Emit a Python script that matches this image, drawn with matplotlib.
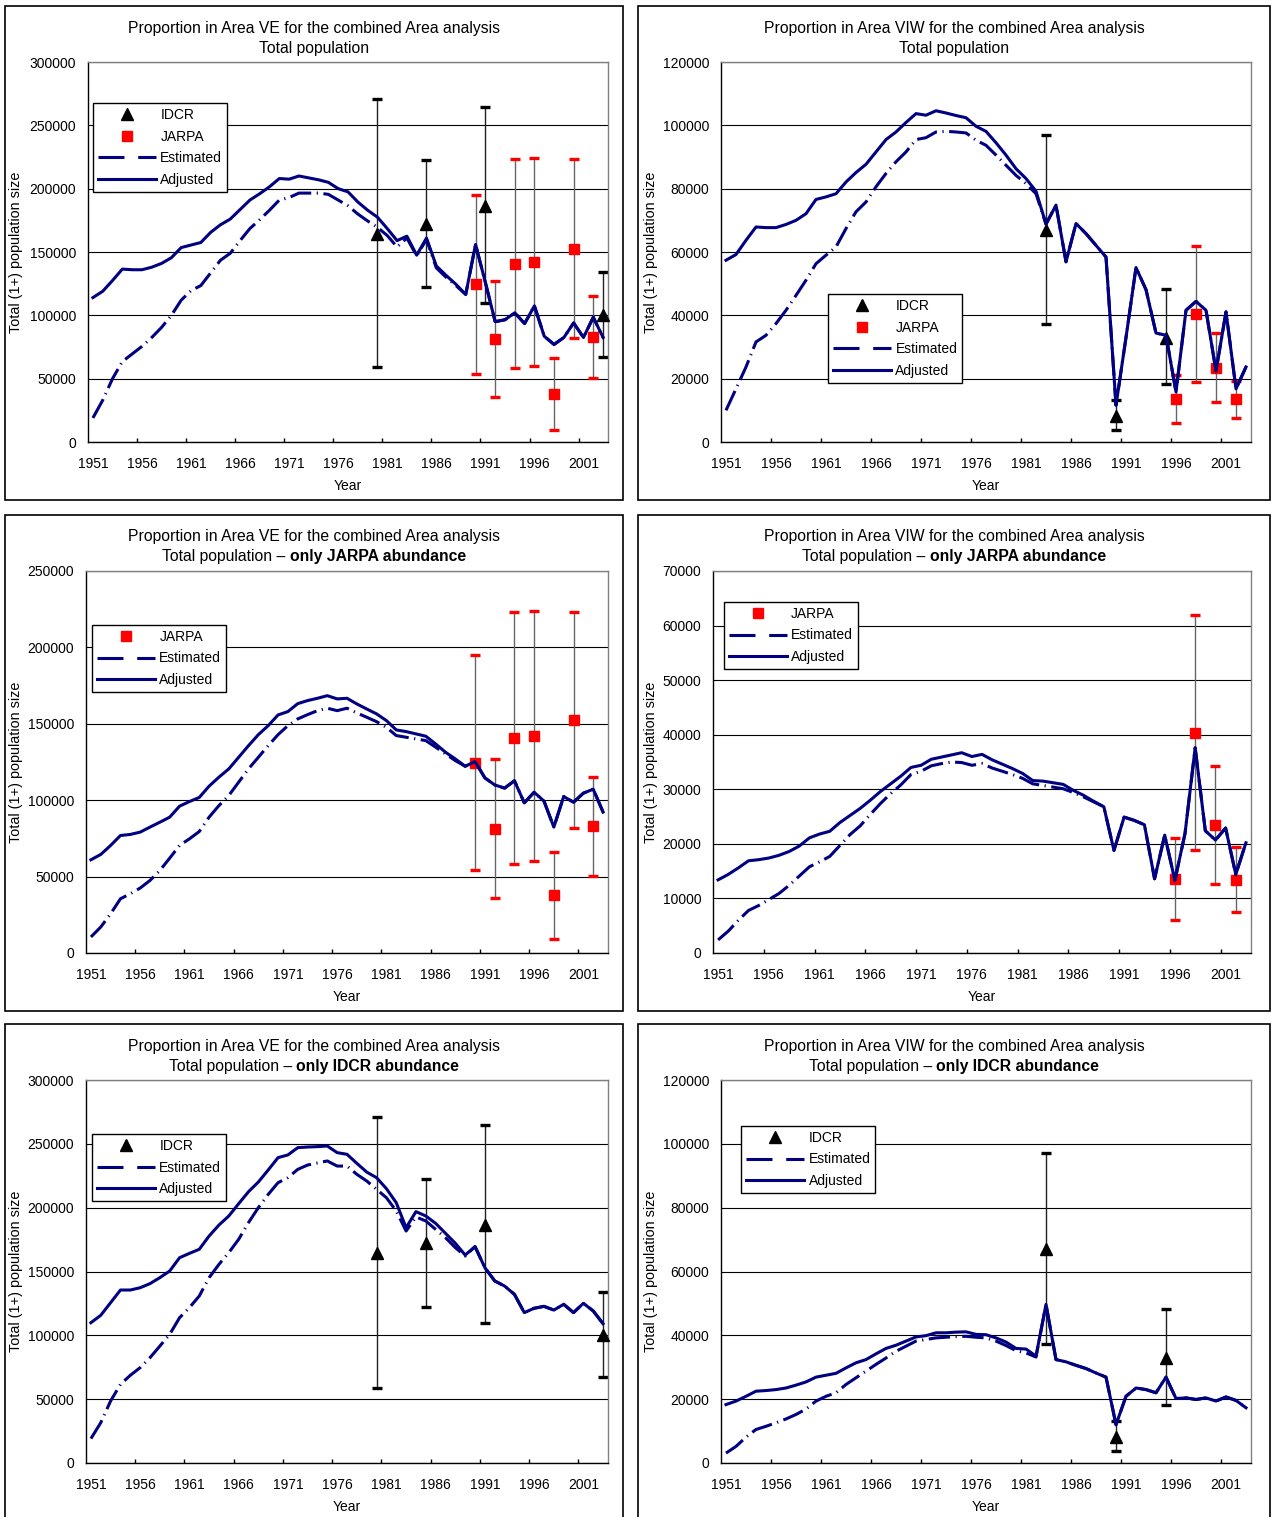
import numpy as np
import matplotlib
matplotlib.use('Agg')
import matplotlib.pyplot as plt
from matplotlib.lines import Line2D
from matplotlib.patches import Rectangle
from matplotlib.ticker import FormatStrFormatter

plt.rcParams['font.family'] = ['Liberation Sans', 'DejaVu Sans']

# Years on the category axis
years = np.arange(1951, 2004)

# Area VE - both abundance series
ve_both_adj = [114000, 119000, 127500, 136500, 136000, 136000, 138000, 141000, 145500, 153500,
               155500, 157500, 165500, 171500, 176000, 183500, 191000, 196000, 201500, 208000,
               207500, 210000, 208500, 207000, 205000, 200000, 197500, 189500, 183000, 177500,
               168500, 159000, 162500, 147500, 161000, 139000, 131500, 124500, 116500, 156000,
               126000, 95000, 96500, 102000, 93500, 107500, 83500, 77000, 82500, 94000,
               82500, 98500, 82500]
ve_both_est = [19000, 33000, 50000, 63500, 69500, 75500, 82500, 90500, 100000, 112000,
               119500, 123500, 133500, 143500, 149000, 159000, 168500, 175500, 183000, 191000,
               193000, 196500, 196500, 196500, 195500, 191000, 186500, 180000, 174500, 169500,
               163000, 154000, 161000, 147000, 160000, 137500, 130000, 123500, 116500, 156000,
               126000, 95000, 96500, 102000, 93500, 107500, 83500, 77000, 82500, 94000,
               82500, 98500, 82500]

# Area VIW - both abundance series
viw_both_adj = [57400, 59200, 63700, 67900, 67700, 67700, 68700, 70000, 72100, 76600,
                77400, 78400, 82100, 85100, 87700, 91600, 95500, 97900, 100900, 103700,
                103200, 104600, 103900, 103100, 102400, 99700, 98100, 94500, 90600, 86300,
                83200, 79200, 68800, 74800, 56900, 69000, 65800, 62100, 58400, 11600,
                33000, 55100, 48100, 34400, 33700, 15800, 41600, 44400, 41600, 22400,
                41100, 16800, 23700]
viw_both_est = [10000, 16800, 23700, 31600, 33700, 37400, 41600, 46300, 51100, 56300,
                59000, 61600, 67400, 72700, 75800, 80600, 84800, 88500, 91600, 95500,
                96100, 97900, 98100, 97900, 97600, 95300, 93700, 90600, 87400, 84200,
                81600, 78400, 68800, 74800, 56900, 69000, 65800, 62100, 58400, 11600,
                33000, 55100, 48100, 34400, 33700, 15800, 41600, 44400, 41600, 22400,
                41100, 16800, 23700]

# Area VE - only JARPA abundance
ve_jarpa_adj = [61000, 64500, 70400, 76900, 77600, 79100, 82400, 85600, 88900, 96100,
                99100, 101800, 109200, 115100, 120500, 128100, 135700, 142900, 148800, 155800,
                158000, 163200, 165200, 166700, 168400, 166300, 166700, 163000, 159700, 156500,
                152100, 146000, 144900, 143400, 141900, 136800, 131400, 127000, 122200, 125300,
                114600, 110000, 107900, 112700, 98300, 105200, 99400, 82400, 102400, 98700,
                104600, 107200, 92200]
ve_jarpa_est = [10500, 17000, 25700, 35500, 38800, 42500, 47500, 54000, 62100, 70400,
                74700, 79500, 88900, 96500, 103100, 111800, 120500, 128100, 135700, 142900,
                148800, 153200, 156000, 158600, 160200, 158600, 160200, 157100, 154300, 151400,
                147700, 142300, 141200, 140100, 139000, 134700, 130300, 125900, 122200, 125300,
                114600, 110000, 107900, 112700, 98300, 105200, 99400, 82400, 102400, 98700,
                104600, 107200, 92200]

# Area VIW - only JARPA abundance
viw_jarpa_adj = [13400, 14400, 15600, 16900, 17100, 17400, 17900, 18600, 19600, 21100,
                 21800, 22300, 23900, 25200, 26500, 28000, 29600, 31000, 32400, 34000,
                 34400, 35500, 35900, 36300, 36700, 36000, 36400, 35400, 34600, 33800,
                 32900, 31600, 31500, 31200, 30900, 29800, 28900, 27800, 26800, 18800,
                 24900, 24300, 23500, 13600, 21600, 13300, 21900, 37600, 22400, 20700,
                 22900, 14400, 20200]
viw_jarpa_est = [2400, 4000, 6000, 7800, 8700, 9800, 10900, 12400, 14100, 15800,
                 16700, 17700, 19700, 21700, 23300, 25400, 27400, 29200, 30800, 32700,
                 33300, 34300, 34700, 35000, 34900, 34400, 34700, 33900, 33300, 32700,
                 32000, 31000, 30700, 30400, 30100, 29400, 28600, 27700, 26800, 18800,
                 24900, 24300, 23500, 13600, 21600, 13300, 21900, 37600, 22400, 20700,
                 22900, 14400, 20200]

# Area VE - only IDCR abundance
ve_idcr_adj = [109900, 115700, 125600, 135500, 135500, 137300, 140500, 145200, 150400, 160800,
               164200, 167400, 177800, 186400, 193500, 203100, 212500, 220100, 229500, 239200,
               241300, 247000, 247500, 247800, 248300, 243100, 241800, 234700, 227900, 223500,
               214900, 203900, 184300, 196900, 193500, 187700, 179900, 172100, 162900, 169500,
               153000, 142600, 138600, 132100, 117800, 121200, 122700, 119800, 124300, 117800,
               125100, 119100, 109100]
ve_idcr_est = [19100, 31600, 48600, 61600, 68700, 74700, 82500, 91600, 100800, 113800,
               121700, 130800, 145200, 155600, 164800, 175200, 188300, 200000, 210400, 219600,
               223500, 230000, 233400, 235000, 236600, 232600, 232600, 226100, 220900, 214400,
               207800, 197400, 181700, 192700, 189600, 183000, 176500, 168700, 162100, 169500,
               153000, 142600, 138600, 132100, 117800, 121200, 122700, 119800, 124300, 117800,
               125100, 119100, 109100]

# Area VIW - only IDCR abundance
viw_idcr_adj = [18300, 19400, 20900, 22500, 22700, 23000, 23500, 24400, 25400, 26900,
                27500, 28100, 29800, 31400, 32400, 34200, 35900, 36900, 38200, 39500,
                39900, 40800, 40800, 41000, 41100, 40300, 40200, 39200, 37900, 35900,
                35700, 33500, 49700, 32400, 31700, 30600, 29600, 28200, 26900, 12000,
                20900, 23500, 23000, 22000, 26900, 20200, 20400, 19900, 20400, 19400,
                20700, 19600, 17300]
viw_idcr_est = [3100, 5200, 8100, 10500, 11500, 12600, 13800, 15200, 16900, 19400,
                20900, 22000, 24600, 26700, 28800, 30900, 32900, 35000, 36600, 38200,
                38700, 39200, 39400, 39600, 39700, 39400, 39200, 38200, 36800, 35200,
                34500, 33200, 49700, 32400, 31700, 30600, 29600, 28200, 26900, 12000,
                20900, 23500, 23000, 22000, 26900, 20200, 20400, 19900, 20400, 19400,
                20700, 19600, 17300]

# Survey abundance estimates with error bar limits
idcr_ve_years = [1980, 1985, 1991, 2003]
idcr_ve = [164500, 172500, 186500, 100000]
idcr_ve_lo = [59000, 122500, 110000, 67000]
idcr_ve_hi = [271000, 222500, 264500, 134000]

idcr_viw_years = [1983, 1990, 1995]
idcr_viw = [67000, 8100, 32900]
idcr_viw_lo = [37300, 3700, 18300]
idcr_viw_hi = [97100, 13300, 48400]

jarpa_ve_years = [1990, 1992, 1994, 1996, 1998, 2000, 2002]
jarpa_ve = [124500, 81000, 140700, 141800, 37800, 152500, 82800]
jarpa_ve_lo = [54000, 35700, 58500, 60300, 9300, 82000, 50600]
jarpa_ve_hi = [194800, 126800, 223300, 224000, 66300, 223300, 115000]

jarpa_viw_years = [1996, 1998, 2000, 2002]
jarpa_viw = [13500, 40400, 23500, 13450]
jarpa_viw_lo = [6000, 18800, 12600, 7500]
jarpa_viw_hi = [21100, 62000, 34300, 19400]

W, H = 1271, 1517
NAVY = '#000080'
EST_DASH = (7, 1.8, 0.4, 1.8)
TITLE_FS = 11.3

fig = plt.figure(figsize=(W / 100, H / 100), dpi=100)
fig.patch.set_facecolor('white')


def rect(l, r, t, b):
    return [l / W, 1 - b / H, (r - l) / W, (b - t) / H]


def survey(ax, yrs, vals, lo, hi, kind):
    vals = np.array(vals)
    err = [vals - np.array(lo), np.array(hi) - vals]
    if kind == 'IDCR':
        line_col, cap_col, mk, col, ms = '#222222', 'black', '^', 'black', 8
    else:
        line_col, cap_col, mk, col, ms = '#666666', 'red', 's', 'red', 7
    eb = ax.errorbar(yrs, vals, yerr=err, fmt='none', ecolor=line_col, elinewidth=1,
                     capsize=3.8, capthick=2.4, zorder=2)
    for cap in eb[1]:
        cap.set_markeredgecolor(cap_col)
        cap.set_markerfacecolor(cap_col)
        cap.set_clip_on(False)
    ax.plot(yrs, vals, ls='none', marker=mk, color=col, ms=ms, zorder=3, clip_on=False)


def panel(box, axrect, area, bold, adj, est, ymax, ystep, idcr, jarpa, leg_at):
    bl, br, bt, bb = box
    fig.patches.append(Rectangle((bl / W, 1 - bb / H), (br - bl) / W, (bb - bt) / H,
                                 transform=fig.transFigure, fill=False, ec='black', lw=1.2))
    ax = fig.add_axes(rect(*axrect))
    l, r, t, b = axrect

    ax.plot(years, est, color=NAVY, lw=2.2, dashes=EST_DASH, zorder=4)
    ax.plot(years, adj, color=NAVY, lw=2.2, zorder=5)
    handles = []
    if idcr is not None:
        survey(ax, *idcr, 'IDCR')
        handles.append(Line2D([], [], ls='none', marker='^', color='black', ms=8, label='IDCR'))
    if jarpa is not None:
        survey(ax, *jarpa, 'JARPA')
        handles.append(Line2D([], [], ls='none', marker='s', color='red', ms=7, label='JARPA'))
    handles.append(Line2D([], [], color=NAVY, lw=2.2, dashes=(8.5, 4.5), label='Estimated'))
    handles.append(Line2D([], [], color=NAVY, lw=2.2, label='Adjusted'))

    ax.set_xlim(1950.5, 2003.5)
    ax.set_xticks(np.arange(1955.5, 2001, 5))
    ax.set_xticklabels([])
    ax.set_xticks(years[::5], minor=True)
    ax.set_xticklabels([str(y) for y in years[::5]], minor=True)
    ax.tick_params(axis='x', which='major', direction='in', length=3, width=1)
    ax.tick_params(axis='x', which='minor', length=0, pad=10.5, labelsize=10)

    ax.set_ylim(0, ymax)
    ax.set_yticks(np.arange(0, ymax + 1, ystep))
    ax.yaxis.set_major_formatter(FormatStrFormatter('%d'))
    ax.tick_params(axis='y', length=0, pad=8.5, labelsize=10)
    ax.yaxis.grid(True, color='black', lw=0.8)
    ax.set_axisbelow(True)
    for s in ['left', 'bottom']:
        ax.spines[s].set_color('black')
        ax.spines[s].set_linewidth(1.0)
    for s in ['top', 'right']:
        ax.spines[s].set_color('#808080')
        ax.spines[s].set_linewidth(1.0)

    leg = ax.legend(handles=handles, loc='upper left', bbox_to_anchor=leg_at, fontsize=10,
                    frameon=True, fancybox=False, edgecolor='black', framealpha=1,
                    handlelength=4.2, handletextpad=0.3, labelspacing=0.55,
                    borderpad=0.35, borderaxespad=0)
    leg.get_frame().set_linewidth(1.0)
    leg.set_zorder(10)

    # titles, centred on the panel box
    xc = (bl + br) / 2
    fig.text(xc / W, 1 - (bt + 22) / H,
             'Proportion in Area %s for the combined Area analysis' % area,
             ha='center', va='center', fontsize=TITLE_FS)
    y2 = 1 - (bt + 42) / H
    if bold is None:
        fig.text(xc / W, y2, 'Total population', ha='center', va='center', fontsize=TITLE_FS)
    else:
        rend = fig.canvas.get_renderer()
        t1 = fig.text(0, y2, 'Total population \u2013', ha='left', va='center', fontsize=TITLE_FS)
        t2 = fig.text(0, y2, bold, ha='left', va='center', fontsize=TITLE_FS, fontweight='bold')
        w1 = t1.get_window_extent(rend).width
        w2 = t2.get_window_extent(rend).width
        gap = 4
        x0 = xc - (w1 + gap + w2) / 2
        t1.set_x(x0 / W)
        t2.set_x((x0 + w1 + gap) / W)

    fig.text(16 / W if l < 400 else 651 / W, 1 - (t + b) / 2 / H,
             'Total (1+) population size', rotation=90, ha='center', va='center', fontsize=10.4)
    fig.text((l + r) / 2 / W, 1 - (b + 44) / H, 'Year', ha='center', va='center', fontsize=10)
    return ax


idcr_ve = (idcr_ve_years, idcr_ve, idcr_ve_lo, idcr_ve_hi)
idcr_viw = (idcr_viw_years, idcr_viw, idcr_viw_lo, idcr_viw_hi)
jarpa_ve = (jarpa_ve_years, jarpa_ve, jarpa_ve_lo, jarpa_ve_hi)
jarpa_viw = (jarpa_viw_years, jarpa_viw, jarpa_viw_lo, jarpa_viw_hi)

panel((5, 623, 6, 500), (88, 608, 62, 442), 'VE', None, ve_both_adj, ve_both_est,
      300000, 50000, idcr_ve, jarpa_ve, (0.0096, 0.892))
panel((638, 1270, 6, 500), (721, 1251, 62, 442), 'VIW', None, viw_both_adj, viw_both_est,
      120000, 20000, idcr_viw, jarpa_viw, (0.202, 0.389))
panel((5, 623, 515, 1011), (86, 608, 571, 953), 'VE', 'only JARPA abundance',
      ve_jarpa_adj, ve_jarpa_est, 250000, 50000, None, jarpa_ve, (0.0115, 0.859))
panel((638, 1270, 515, 1011), (713, 1251, 571, 953), 'VIW', 'only JARPA abundance',
      viw_jarpa_adj, viw_jarpa_est, 70000, 10000, None, jarpa_viw, (0.020, 0.919))
panel((5, 623, 1024, 1530), (86, 608, 1080, 1463), 'VE', 'only IDCR abundance',
      ve_idcr_adj, ve_idcr_est, 300000, 50000, idcr_ve, None, (0.0115, 0.859))
panel((638, 1270, 1024, 1530), (721, 1251, 1080, 1463), 'VIW', 'only IDCR abundance',
      viw_idcr_adj, viw_idcr_est, 120000, 20000, idcr_viw, None, (0.038, 0.880))

fig.savefig('out.png', dpi=100)
